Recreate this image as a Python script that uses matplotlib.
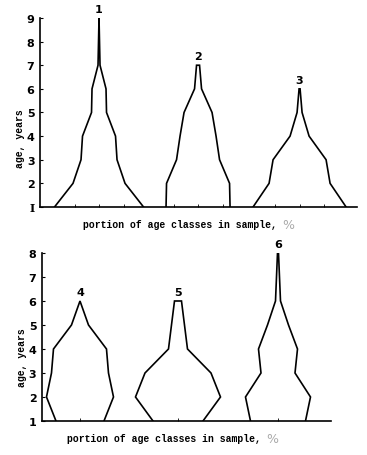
import matplotlib
matplotlib.use('Agg')
import matplotlib.pyplot as plt
import numpy as np

# ширина пирамид по возрастным классам (ширина = доля класса в выборке)
ages_p1 = [1, 2, 3, 4, 5, 6, 7, 8, 9]
share_p1 = [89, 52, 36, 33, 15, 14, 2, 1, 0]
ages_p2 = [1, 2, 3, 4, 5, 6, 7]
share_p2 = [64, 63, 43, 36, 28, 7, 3]
ages_p3 = [1, 2, 3, 4, 5, 6]
share_p3 = [93, 61, 53, 19, 5, 1]

ages_p4 = [1, 2, 3, 4, 5, 6]
share_p4 = [48, 67, 57, 53, 17, 0]
ages_p5 = [1, 2, 3, 4, 5, 6]
share_p5 = [50, 85, 66, 19, 13, 7]
ages_p6 = [1, 2, 3, 4, 5, 6, 7, 8]
share_p6 = [55, 65, 34, 39, 21, 5, 3, 1]

names_top = ['1', '2', '3']
names_bottom = ['4', '5', '6']
yticks_top = ['I', '2', '3', '4', '5', '6', '7', '8', '9']
yticks_bottom = ['1', '2', '3', '4', '5', '6', '7', '8']

xlabel = 'portion of age classes in sample,'
ylabel = 'age, years'


def pyramid(ax, center, ages, share, name):
    ages = np.array(ages, dtype=float)
    half = np.array(share, dtype=float) / 2
    xs = np.concatenate([center - half, (center + half)[::-1]])
    ys = np.concatenate([ages, ages[::-1]])
    ax.plot(xs, ys, color='k', lw=1.2, solid_joinstyle='miter')
    ax.annotate(name, (center, ages[-1]), xytext=(0, 3), textcoords='offset points',
                ha='center', va='bottom', fontsize=8, fontweight='bold')


def style(ax, ticklabels, xlab_x, ylab_y):
    ax.spines['top'].set_visible(False)
    ax.spines['right'].set_visible(False)
    for s in ['left', 'bottom']:
        ax.spines[s].set_linewidth(1.2)
    n = len(ticklabels)
    ax.set_ylim(1, n)
    ax.set_yticks(range(1, n + 1))
    ax.set_yticklabels(ticklabels, fontsize=8, fontweight='bold')
    ax.tick_params(axis='y', length=2, direction='in', pad=4)
    ax.tick_params(axis='x', which='both', length=2, direction='in', labelbottom=False)
    ax.set_xticks([])
    t = ax.set_xlabel(xlabel, family='Liberation Mono', fontweight='bold', fontsize=7,
                      x=xlab_x, labelpad=9)
    ax.annotate('%', xy=(1, 0.5), xycoords=t, xytext=(4, 0), textcoords='offset points',
                ha='left', va='center', fontsize=9, color='#aaaaaa')
    ax.set_ylabel(ylabel, family='Liberation Mono', fontweight='bold', fontsize=7,
                  y=ylab_y, labelpad=1)


fig = plt.figure(figsize=(3.67, 4.56), dpi=100)

# верхняя панель
ax1 = fig.add_axes([0.109, 0.5439, 0.864, 0.4145])
centers_top = [59, 158, 259.5]
for c, a, s, n in zip(centers_top, [ages_p1, ages_p2, ages_p3],
                      [share_p1, share_p2, share_p3], names_top):
    pyramid(ax1, c, a, s, n)
ax1.set_xlim(0, 317)
style(ax1, yticks_top, 0.44, 0.365)
ax1.get_yticklabels()[0].set_family('DejaVu Serif')
ax1.set_xticks([c + d for c in centers_top for d in (-24.5, 0, 24.5)], minor=True)

# нижняя панель
ax2 = fig.add_axes([0.1144, 0.0746, 0.7875, 0.3684])
centers_bottom = [38, 136, 236]
for c, a, s, n in zip(centers_bottom, [ages_p4, ages_p5, ages_p6],
                      [share_p4, share_p5, share_p6], names_bottom):
    pyramid(ax2, c, a, s, n)
ax2.set_xlim(0, 289)
style(ax2, yticks_bottom, 0.422, 0.384)
ax2.set_xticks(centers_bottom, minor=True)

fig.savefig('out.png', dpi=100)
